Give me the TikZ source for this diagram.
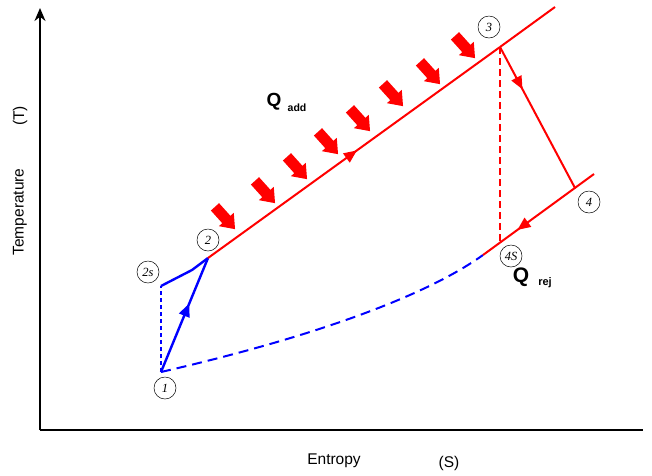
\documentclass[tikz,border=0pt]{standalone}
\usepackage{fontspec}
\setmainfont{Liberation Serif}
\setsansfont{Liberation Sans}
\usetikzlibrary{arrows.meta,decorations.markings}
\definecolor{pred}{RGB}{255,0,0}
\definecolor{pblue}{RGB}{0,0,255}
\tikzset{
  midarrow/.style={postaction={decorate},decoration={markings,
      mark=at position #1 with {\arrow{Triangle[length=13pt,width=11pt]}}}},
  redline/.style={draw=pred,fill=pred,line width=2pt},
  blueline/.style={draw=pblue,fill=pblue,line width=2.4pt},
  reddash/.style={draw=pred,line width=2pt,dash pattern=on 7pt off 4pt},
  bluedash/.style={draw=pblue,line width=2pt,dash pattern=on 10pt off 6pt},
  bluedot/.style={draw=pblue,line width=2pt,dash pattern=on 4pt off 3pt},
  statelbl/.style={circle,draw=black,line width=0.5pt,minimum size=22pt,inner sep=0pt,
      font=\itshape\fontsize{12.5}{12.5}\selectfont},
  axislbl/.style={font=\sffamily\fontsize{15.5}{15.5}\selectfont,inner sep=0pt},
  heatarrow/.style={fill=pred,draw=none},
}
\begin{document}
\begin{tikzpicture}[x=1pt,y=-1pt]
\useasboundingbox[fill=white] (0,0) rectangle (652,475);
% axes
\coordinate (O) at (40,430);
\coordinate (ytop) at (40,8);
\coordinate (xend) at (643,430);
\draw[line width=2pt,-{Stealth[length=13pt,width=11pt]}] (O) -- (ytop);
\draw[line width=2pt] (O) -- (xend);
% state points
\coordinate (p1) at (161,372);
\coordinate (p2s) at (161,286);
\coordinate (k2s) at (192,270);
\coordinate (p2) at (208,258);
\coordinate (p3) at (500,47);
\coordinate (p3e) at (555,7);
\coordinate (p4) at (575,188);
\coordinate (p4e) at (594,174);
\coordinate (p4s) at (500,243);
\coordinate (p4se) at (483,255);
% blue
\draw[bluedot] (p1) -- (p2s);
\draw[blueline,fill=none] (p2s) -- (k2s) -- (p2);
\draw[blueline,fill=none,midarrow=0.6] (p1) -- (p2);
\draw[bluedash] (p1) .. controls (300,340) and (420,300) .. (p4se);
% red
\draw[redline,fill=none,midarrow=0.51] (p2) -- (p3);
\draw[redline,fill=none] (p3) -- (p3e);
\draw[redline,fill=none,midarrow=0.3] (p3) -- (p4);
\draw[redline,fill=none,midarrow=0.69] (p4e) -- (p4se);
\draw[reddash] (p3) -- (p4s);
% heat arrows
\foreach \cx/\cy in {225/218,265/192,297/168,328/143,360/120,393/95,430/73,465/47}{
  \fill[heatarrow,shift={(\cx,\cy)},rotate=-48]
    (-15,-5.5) -- (2,-5.5) -- (2,-10) -- (15,0) -- (2,10) -- (2,5.5) -- (-15,5.5) -- cycle;
}
% state labels
\node[statelbl] (l1) at (165,388) {1};
\node[statelbl] (l2s) at (148,272) {2s};
\node[statelbl] (l2) at (208,240) {2};
\node[statelbl] (l3) at (489,27) {3};
\node[statelbl] (l4) at (589,202) {4};
\node[statelbl] (l4s) at (511,256) {4S};
% heat labels
\node[font=\sffamily\bfseries\fontsize{19}{19}\selectfont,inner sep=0pt] (qadd) at (274,102) {Q};
\node[font=\sffamily\bfseries\fontsize{10.5}{10.5}\selectfont,inner sep=0pt] (qaddsub) at (297,108) {add};
\node[font=\sffamily\bfseries\fontsize{21}{21}\selectfont,inner sep=0pt] (qrej) at (521,277) {Q};
\node[font=\sffamily\bfseries\fontsize{11}{11}\selectfont,inner sep=0pt] (qrejsub) at (545,283) {rej};
% axis labels
\node[axislbl,rotate=90] (tlbl) at (20,212) {Temperature};
\node[axislbl,rotate=90] (tsym) at (20,116) {(T)};
\node[axislbl] (slbl) at (334,461) {Entropy};
\node[axislbl] (ssym) at (449,463) {(S)};
\end{tikzpicture}
\end{document}
